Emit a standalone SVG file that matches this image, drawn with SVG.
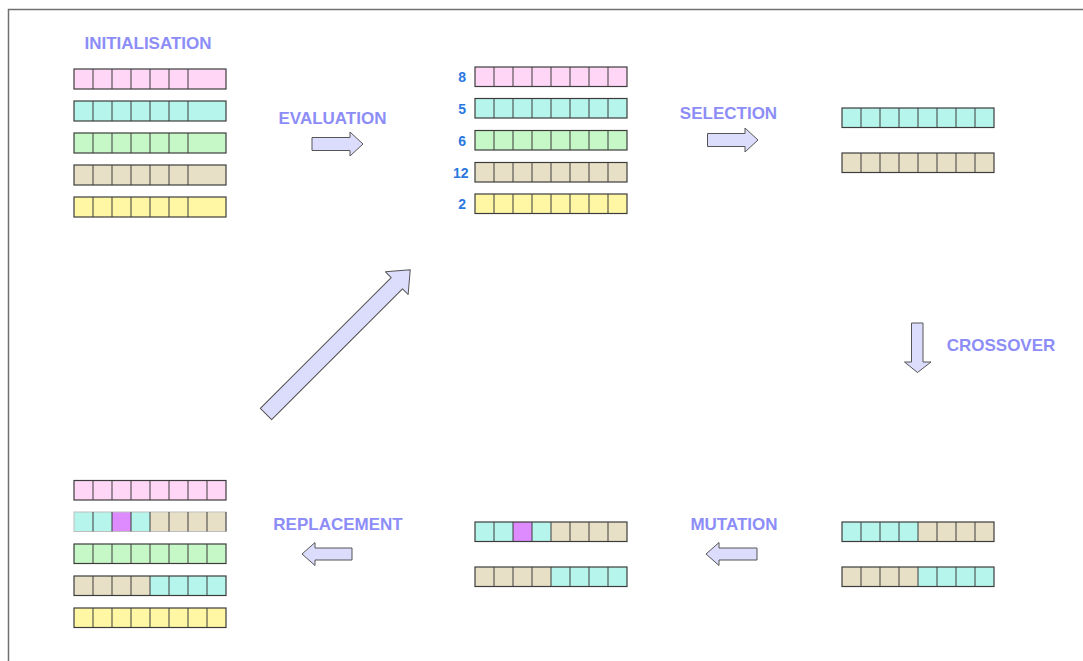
<svg xmlns="http://www.w3.org/2000/svg" width="1083" height="661" viewBox="0 0 1083 661">
  <style>
    .lbl { font-family: "Liberation Sans", Arial, sans-serif; font-weight: bold; font-size: 17px; fill: #8d8df7; text-anchor: middle; }
    .num { font-family: "Liberation Sans", Arial, sans-serif; font-weight: bold; font-size: 14px; fill: #2a78e0; text-anchor: end; }
    .p { fill: #ffd6f6; }
    .c { fill: #b6f5ec; }
    .g { fill: #c6f7c6; }
    .t { fill: #e8e0c6; }
    .y { fill: #fff7a4; }
    .m { fill: #dd8bff; }
    .ol { fill: none; stroke: #3c3c3c; stroke-width: 1.2; }
    .ol-soft { fill: none; stroke: #bdbdbd; stroke-width: 1; }
    .dv { fill: none; stroke: #3c3c3c; stroke-width: 1; }
    .arrow { fill: #dcdcfc; stroke: #555; stroke-width: 1; stroke-linejoin: round; }
  </style>

  <!-- page frame -->
  <path d="M8.5,661 V9.5 H1083" fill="none" stroke="#707070" stroke-width="1.5"/>

  <!-- stage titles -->
  <g id="titles">
    <text class="lbl" x="148" y="49">INITIALISATION</text>
    <text class="lbl" x="332.5" y="124">EVALUATION</text>
    <text class="lbl" x="728.5" y="119">SELECTION</text>
    <text class="lbl" x="1001" y="351">CROSSOVER</text>
    <text class="lbl" x="734" y="530">MUTATION</text>
    <text class="lbl" x="338" y="530">REPLACEMENT</text>
  </g>

  <!-- initial population (7 genes, last one wide) -->
  <g id="init-1">
    <rect class="p" x="74" y="69" width="152" height="20"/>
    <path class="dv" d="M93,69v20M112,69v20M131,69v20M150,69v20M169,69v20M188,69v20"/>
    <rect class="ol" x="74" y="69" width="152" height="20"/>
  </g>
  <g id="init-2">
    <rect class="c" x="74" y="101" width="152" height="20"/>
    <path class="dv" d="M93,101v20M112,101v20M131,101v20M150,101v20M169,101v20M188,101v20"/>
    <rect class="ol" x="74" y="101" width="152" height="20"/>
  </g>
  <g id="init-3">
    <rect class="g" x="74" y="133" width="152" height="20"/>
    <path class="dv" d="M93,133v20M112,133v20M131,133v20M150,133v20M169,133v20M188,133v20"/>
    <rect class="ol" x="74" y="133" width="152" height="20"/>
  </g>
  <g id="init-4">
    <rect class="t" x="74" y="165" width="152" height="20"/>
    <path class="dv" d="M93,165v20M112,165v20M131,165v20M150,165v20M169,165v20M188,165v20"/>
    <rect class="ol" x="74" y="165" width="152" height="20"/>
  </g>
  <g id="init-5">
    <rect class="y" x="74" y="197" width="152" height="20"/>
    <path class="dv" d="M93,197v20M112,197v20M131,197v20M150,197v20M169,197v20M188,197v20"/>
    <rect class="ol" x="74" y="197" width="152" height="20"/>
  </g>

  <!-- evaluated population with fitness scores -->
  <g id="eval-1">
    <text class="num" x="466" y="81.5">8</text>
    <rect class="p" x="475" y="67" width="152" height="19.5"/>
    <path class="dv" d="M494,67v19.5M513,67v19.5M532,67v19.5M551,67v19.5M570,67v19.5M589,67v19.5M608,67v19.5"/>
    <rect class="ol" x="475" y="67" width="152" height="19.5"/>
  </g>
  <g id="eval-2">
    <text class="num" x="466" y="113.5">5</text>
    <rect class="c" x="475" y="98.5" width="152" height="19.5"/>
    <path class="dv" d="M494,98.5v19.5M513,98.5v19.5M532,98.5v19.5M551,98.5v19.5M570,98.5v19.5M589,98.5v19.5M608,98.5v19.5"/>
    <rect class="ol" x="475" y="98.5" width="152" height="19.5"/>
  </g>
  <g id="eval-3">
    <text class="num" x="466" y="145.5">6</text>
    <rect class="g" x="475" y="130.5" width="152" height="19.5"/>
    <path class="dv" d="M494,130.5v19.5M513,130.5v19.5M532,130.5v19.5M551,130.5v19.5M570,130.5v19.5M589,130.5v19.5M608,130.5v19.5"/>
    <rect class="ol" x="475" y="130.5" width="152" height="19.5"/>
  </g>
  <g id="eval-4">
    <text class="num" x="468.5" y="177.5">12</text>
    <rect class="t" x="475" y="162.5" width="152" height="19.5"/>
    <path class="dv" d="M494,162.5v19.5M513,162.5v19.5M532,162.5v19.5M551,162.5v19.5M570,162.5v19.5M589,162.5v19.5M608,162.5v19.5"/>
    <rect class="ol" x="475" y="162.5" width="152" height="19.5"/>
  </g>
  <g id="eval-5">
    <text class="num" x="466" y="209">2</text>
    <rect class="y" x="475" y="194" width="152" height="19.5"/>
    <path class="dv" d="M494,194v19.5M513,194v19.5M532,194v19.5M551,194v19.5M570,194v19.5M589,194v19.5M608,194v19.5"/>
    <rect class="ol" x="475" y="194" width="152" height="19.5"/>
  </g>

  <!-- selected parents -->
  <g id="parent-1">
    <rect class="c" x="842" y="108" width="152" height="19.5"/>
    <path class="dv" d="M861,108v19.5M880,108v19.5M899,108v19.5M918,108v19.5M937,108v19.5M956,108v19.5M975,108v19.5"/>
    <rect class="ol" x="842" y="108" width="152" height="19.5"/>
  </g>
  <g id="parent-2">
    <rect class="t" x="842" y="153" width="152" height="19.5"/>
    <path class="dv" d="M861,153v19.5M880,153v19.5M899,153v19.5M918,153v19.5M937,153v19.5M956,153v19.5M975,153v19.5"/>
    <rect class="ol" x="842" y="153" width="152" height="19.5"/>
  </g>

  <!-- offspring after crossover -->
  <g id="child-1">
    <rect class="c" x="842" y="522" width="76" height="19.5"/>
    <rect class="t" x="918" y="522" width="76" height="19.5"/>
    <path class="dv" d="M861,522v19.5M880,522v19.5M899,522v19.5M918,522v19.5M937,522v19.5M956,522v19.5M975,522v19.5"/>
    <rect class="ol" x="842" y="522" width="152" height="19.5"/>
  </g>
  <g id="child-2">
    <rect class="t" x="842" y="567" width="76" height="19.5"/>
    <rect class="c" x="918" y="567" width="76" height="19.5"/>
    <path class="dv" d="M861,567v19.5M880,567v19.5M899,567v19.5M918,567v19.5M937,567v19.5M956,567v19.5M975,567v19.5"/>
    <rect class="ol" x="842" y="567" width="152" height="19.5"/>
  </g>

  <!-- offspring after mutation -->
  <g id="mutant-1">
    <rect class="c" x="475" y="522" width="76" height="19.5"/>
    <rect class="m" x="513" y="522" width="19" height="19.5"/>
    <rect class="t" x="551" y="522" width="76" height="19.5"/>
    <path class="dv" d="M494,522v19.5M513,522v19.5M532,522v19.5M551,522v19.5M570,522v19.5M589,522v19.5M608,522v19.5"/>
    <rect class="ol" x="475" y="522" width="152" height="19.5"/>
  </g>
  <g id="mutant-2">
    <rect class="t" x="475" y="567" width="76" height="19.5"/>
    <rect class="c" x="551" y="567" width="76" height="19.5"/>
    <path class="dv" d="M494,567v19.5M513,567v19.5M532,567v19.5M551,567v19.5M570,567v19.5M589,567v19.5M608,567v19.5"/>
    <rect class="ol" x="475" y="567" width="152" height="19.5"/>
  </g>

  <!-- new population after replacement -->
  <g id="next-1">
    <rect class="p" x="74" y="480.5" width="152" height="19.5"/>
    <path class="dv" d="M93,480.5v19.5M112,480.5v19.5M131,480.5v19.5M150,480.5v19.5M169,480.5v19.5M188,480.5v19.5M207,480.5v19.5"/>
    <rect class="ol" x="74" y="480.5" width="152" height="19.5"/>
  </g>
  <g id="next-2">
    <rect class="c" x="74" y="512" width="76" height="19.5"/>
    <rect class="m" x="112" y="512" width="19" height="19.5"/>
    <rect class="t" x="150" y="512" width="76" height="19.5"/>
    <rect class="ol-soft" x="74" y="512" width="152" height="19.5"/>
    <path class="dv" d="M93,512v19.5M112,512v19.5M131,512v19.5M150,512v19.5M169,512v19.5M188,512v19.5M207,512v19.5M226,512v19.5"/>
  </g>
  <g id="next-3">
    <rect class="g" x="74" y="544" width="152" height="19.5"/>
    <path class="dv" d="M93,544v19.5M112,544v19.5M131,544v19.5M150,544v19.5M169,544v19.5M188,544v19.5M207,544v19.5"/>
    <rect class="ol" x="74" y="544" width="152" height="19.5"/>
  </g>
  <g id="next-4">
    <rect class="t" x="74" y="576" width="76" height="19.5"/>
    <rect class="c" x="150" y="576" width="76" height="19.5"/>
    <path class="dv" d="M93,576v19.5M112,576v19.5M131,576v19.5M150,576v19.5M169,576v19.5M188,576v19.5M207,576v19.5"/>
    <rect class="ol" x="74" y="576" width="152" height="19.5"/>
  </g>
  <g id="next-5">
    <rect class="y" x="74" y="608" width="152" height="19.5"/>
    <path class="dv" d="M93,608v19.5M112,608v19.5M131,608v19.5M150,608v19.5M169,608v19.5M188,608v19.5M207,608v19.5"/>
    <rect class="ol" x="74" y="608" width="152" height="19.5"/>
  </g>

  <!-- block arrows between stages -->
  <g id="connectors">
    <path class="arrow" d="M312,137.5 H350 V132 L363,144 L350,156 V150.5 H312 Z"/>
    <path class="arrow" d="M707.5,133.5 H745 V128 L758,140 L745,152 V146.5 H707.5 Z"/>
    <path class="arrow" d="M911.5,323 H923 V362 H931 L917.5,372.5 L904.5,362 H911.5 Z"/>
    <path class="arrow" d="M757,548 H719 V542.5 L706,554 L719,565.5 V560 H757 Z"/>
    <path class="arrow" d="M352,548 H315 V542.5 L302,554 L315,565.5 V560 H352 Z"/>
    <path class="arrow" transform="translate(266,414) rotate(-45)" d="M0,-8 H185 V-16 L204,0 L185,16 V8 H0 Z"/>
  </g>
</svg>
